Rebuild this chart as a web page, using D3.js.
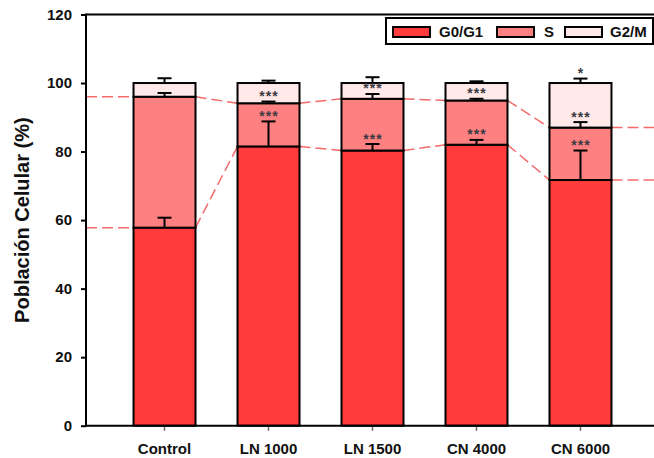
<!DOCTYPE html>
<html>
<head>
<meta charset="utf-8">
<script src="https://cdn.jsdelivr.net/npm/d3@7"></script>
<style>
  html, body { margin: 0; padding: 0; background: #fff; }
  svg { display: block; font-family: "Liberation Sans", Arial, sans-serif; }
</style>
</head>
<body>
<svg id="chart" width="654" height="458"></svg>
<script>
// Cell-cycle distribution per treatment (% of cells)
const categories = ["Control", "LN 1000", "LN 1500", "CN 4000", "CN 6000"];
const phases = ["G0/G1", "S", "G2/M"];
const g0g1 = [57.8, 81.5, 80.3, 82.0, 71.7];
const sPhase = [38.2, 12.6, 15.1, 12.9, 15.3];
const g2m = [4.0, 5.9, 4.6, 5.1, 13.0];
const g0g1Err = [2.9, 7.3, 1.9, 1.4, 8.6];
const sErr = [1.1, 0.5, 1.4, 0.5, 1.6];
const g2mErr = [1.4, 0.7, 1.7, 0.5, 1.3];
const g0g1Sig = ["", "***", "***", "***", "***"];
const sSig = ["", "***", "***", "***", "***"];
const g2mSig = ["", "", "", "", "*"];
const yTicks = [0, 20, 40, 60, 80, 100, 120];
const yLabel = "Población Celular (%)";

const colors = ["#ff3b3b", "#ff8080", "#ffe9e9"];

const svg = d3.select("#chart");
const plotL = 86, plotR = 659, plotT = 14.5, plotB = 425.7;

const x = d3.scaleBand().domain(categories).range([plotL, plotR])
  .paddingInner(0.404).paddingOuter(0.457);
const y = d3.scaleLinear().domain([0, 120]).range([plotB, plotT]);

// stacked table built from the series arrays
const table = categories.map((c, i) => ({
  cat: c, "G0/G1": g0g1[i], "S": sPhase[i], "G2/M": g2m[i]
}));
const stack = d3.stack().keys(phases)(table);
const errs = [g0g1Err, sErr, g2mErr];
const sigs = [g0g1Sig, sSig, g2mSig];

// dashed guide lines joining the G0/G1 and S levels between bars
const guide = svg.append("g");
[0, 1].forEach(k => {
  const lv = stack[k].map(d => d[1]);
  const segs = [[plotL, lv[0], x(categories[0]), lv[0]]];
  for (let i = 0; i < categories.length - 1; i++) {
    segs.push([x(categories[i]) + x.bandwidth(), lv[i], x(categories[i + 1]), lv[i + 1]]);
  }
  const last = categories.length - 1;
  segs.push([x(categories[last]) + x.bandwidth(), lv[last], 660, lv[last]]);
  guide.selectAll(null).data(segs).enter().append("line")
    .attr("x1", d => d[0]).attr("y1", d => y(d[1]))
    .attr("x2", d => d[2]).attr("y2", d => y(d[3]))
    .attr("stroke", "#f46a6a").attr("stroke-width", 1.5)
    .attr("stroke-dasharray", "11,5");
});

// bars
stack.forEach((layer, k) => {
  svg.append("g").selectAll("rect").data(layer).enter().append("rect")
    .attr("x", (d, i) => x(categories[i]))
    .attr("y", d => y(d[1]))
    .attr("width", x.bandwidth())
    .attr("height", d => y(d[0]) - y(d[1]))
    .attr("fill", colors[k])
    .attr("stroke", "#000").attr("stroke-width", 2);
});

// error bars (upper) and significance marks
const eg = svg.append("g");
stack.forEach((layer, k) => {
  layer.forEach((d, i) => {
    const cx = x(categories[i]) + x.bandwidth() / 2;
    const yTop = y(d[1] + errs[k][i]);
    eg.append("line").attr("x1", cx).attr("x2", cx)
      .attr("y1", y(d[1])).attr("y2", yTop)
      .attr("stroke", "#000").attr("stroke-width", 2);
    eg.append("line").attr("x1", cx - 7).attr("x2", cx + 7)
      .attr("y1", yTop).attr("y2", yTop)
      .attr("stroke", "#000").attr("stroke-width", 2);
    if (sigs[k][i]) {
      eg.append("text").attr("x", cx + 0.5).attr("y", yTop - 0.5)
        .attr("text-anchor", "middle")
        .attr("font-size", 14).attr("font-weight", "bold")
        .attr("letter-spacing", 1)
        .attr("fill", "#3a3a44")
        .text(sigs[k][i]);
    }
  });
});

// axes
const yAxis = svg.append("g").attr("transform", `translate(${plotL},0)`)
  .call(d3.axisLeft(y).tickValues(yTicks).tickSize(5).tickPadding(9));
yAxis.select(".domain").remove();
yAxis.selectAll(".tick line").attr("stroke", "#000").attr("stroke-width", 2);
yAxis.selectAll(".tick text").attr("font-size", 15).attr("font-weight", "bold")
  .attr("font-family", "Liberation Sans, Arial, sans-serif").attr("fill", "#111");

const xAxis = svg.append("g").attr("transform", `translate(0,${plotB})`)
  .call(d3.axisBottom(x).tickSize(5).tickPadding(13));
xAxis.select(".domain").remove();
xAxis.selectAll(".tick line").attr("stroke", "#666").attr("stroke-width", 1.5);
xAxis.selectAll(".tick text").attr("font-size", 15).attr("font-weight", "bold")
  .attr("font-family", "Liberation Sans, Arial, sans-serif").attr("fill", "#111");

// plot frame
svg.append("line").attr("x1", plotL).attr("x2", plotL).attr("y1", plotT - 1).attr("y2", plotB + 1)
  .attr("stroke", "#000").attr("stroke-width", 2);
svg.append("line").attr("x1", plotL).attr("x2", 660).attr("y1", plotB).attr("y2", plotB)
  .attr("stroke", "#000").attr("stroke-width", 2);
svg.append("line").attr("x1", plotL).attr("x2", 660).attr("y1", plotT).attr("y2", plotT)
  .attr("stroke", "#000").attr("stroke-width", 2);

// y label
svg.append("text")
  .attr("transform", `translate(29,${(plotT + plotB) / 2}) rotate(-90)`)
  .attr("text-anchor", "middle")
  .attr("font-size", 20).attr("font-weight", "bold").attr("fill", "#111")
  .text(yLabel);

// legend
const lg = svg.append("g");
lg.append("rect").attr("x", 386).attr("y", 18).attr("width", 267).attr("height", 26)
  .attr("fill", "#fff").attr("stroke", "#000").attr("stroke-width", 2);
const items = [
  { x: 393, tx: 439 },
  { x: 497, tx: 544 },
  { x: 565, tx: 610 }
];
phases.forEach((p, k) => {
  lg.append("rect").attr("x", items[k].x).attr("y", 27).attr("width", 37).attr("height", 10)
    .attr("fill", colors[k]).attr("stroke", "#000").attr("stroke-width", 2);
  lg.append("text").attr("x", items[k].tx).attr("y", 37)
    .attr("font-size", 15).attr("font-weight", "bold").attr("fill", "#111")
    .text(p);
});
</script>
</body>
</html>
